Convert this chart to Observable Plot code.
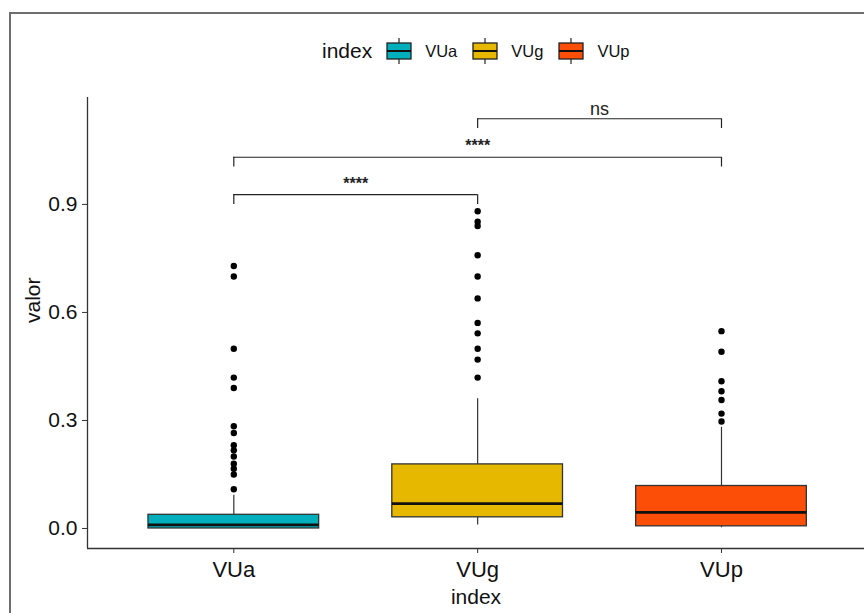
<!DOCTYPE html>
<html>
<head>
<meta charset="utf-8">
<script src="https://cdn.jsdelivr.net/npm/d3@7"></script>
<script src="https://cdn.jsdelivr.net/npm/@observablehq/plot@0.6"></script>
<style>
  html, body { margin: 0; padding: 0; background: #fff; overflow: hidden; }
  #wrap { position: relative; width: 864px; height: 613px; font-family: "Liberation Sans", Arial, sans-serif; color: #111; }
  #legend { position: relative; height: 80px; }
  #legendRow { position: absolute; left: 322px; top: 38px; display: flex; align-items: center; height: 26px; }
  #legendRow .title { font-size: 21px; margin-right: 14px; }
  #legendRow .lab { font-size: 16.5px; margin-left: 13px; margin-right: 15px; }
  #frameBorder { position: absolute; left: 9px; top: 12px; width: 1000px; height: 1000px; border-left: 2px solid #6e6e6e; border-top: 2px solid #6e6e6e; pointer-events: none; }
  svg { display: block; }
</style>
</head>
<body>
<div id="wrap">
  <div id="legend"><div id="legendRow"></div></div>
  <div id="chart"></div>
  <div id="frameBorder"></div>
</div>
<script>
// ---------- data ----------
const categories = ["VUa", "VUg", "VUp"];
const colors = ["#00AFBB", "#E7B800", "#FC4E07"];
const q1 = [0.000, 0.031, 0.006];
const median = [0.010, 0.069, 0.045];
const q3 = [0.038, 0.178, 0.118];
const whiskerLow = [0.000, 0.010, 0.002];
const whiskerHigh = [0.092, 0.360, 0.281];
const outliersVUa = [0.729, 0.700, 0.499, 0.419, 0.390, 0.284, 0.265, 0.231, 0.217, 0.200, 0.180, 0.166, 0.150, 0.109];
const outliersVUg = [0.881, 0.852, 0.840, 0.759, 0.700, 0.639, 0.571, 0.542, 0.499, 0.469, 0.419];
const outliersVUp = [0.548, 0.491, 0.409, 0.381, 0.357, 0.319, 0.297];
const yTicks = [0.0, 0.3, 0.6, 0.9];
const compGroup1 = ["VUa", "VUa", "VUg"];
const compGroup2 = ["VUg", "VUp", "VUp"];
const compY = [0.927, 1.031, 1.138];
const compLabels = ["****", "****", "ns"];
const tipDrop = 0.027;
const xTitle = "index";
const yTitle = "valor";
const legendTitle = "index";

// ---------- tables ----------
const pos = c => categories.indexOf(c) + 1;
const boxes = categories.map((c, i) => ({
  cat: c, x: i + 1, color: colors[i],
  q1: q1[i], med: median[i], q3: q3[i], lo: whiskerLow[i], hi: whiskerHigh[i]
}));
const outlierLists = [outliersVUa, outliersVUg, outliersVUp];
const outliers = outlierLists.flatMap((arr, i) => arr.map(v => ({x: i + 1, v})));
const comps = compLabels.map((l, i) => ({
  x1: pos(compGroup1[i]), x2: pos(compGroup2[i]), y: compY[i], label: l
}));
const tips = comps.flatMap(c => [{x: c.x1, y: c.y}, {x: c.x2, y: c.y}]);
const half = 0.35;
const yMin = -0.0556, yMax = 1.197;

// ---------- legend ----------
const row = d3.select("#legendRow");
row.append("span").attr("class", "title").text(legendTitle);
categories.forEach((c, i) => {
  const s = row.append("svg").attr("width", 26).attr("height", 26);
  s.append("line").attr("x1", 13).attr("x2", 13).attr("y1", 0).attr("y2", 26).attr("stroke", "#222").attr("stroke-width", 1.2);
  s.append("rect").attr("x", 1).attr("y", 5).attr("width", 24).attr("height", 16).attr("fill", colors[i]).attr("stroke", "#222").attr("stroke-width", 1.3);
  s.append("line").attr("x1", 1).attr("x2", 25).attr("y1", 13).attr("y2", 13).attr("stroke", "#111").attr("stroke-width", 2);
  row.append("span").attr("class", "lab").text(c);
});

// ---------- chart ----------
const chart = Plot.plot({
  width: 864,
  height: 533,
  marginLeft: 87,
  marginRight: 0,
  marginTop: 17,
  marginBottom: 65,
  style: {fontFamily: "Liberation Sans, Arial, sans-serif", color: "#111", background: "white"},
  x: {domain: [0.4, 3.6], range: [87, 867.3]},
  y: {domain: [yMin, yMax], range: [468, 17]},
  marks: [
    // axis lines
    Plot.ruleX([0.4], {y1: yMin, y2: yMax, stroke: "#333", strokeWidth: 1.3}),
    Plot.ruleY([yMin], {x1: 0.4, x2: 3.6, stroke: "#333", strokeWidth: 1.3}),
    Plot.axisY({ticks: yTicks, tickFormat: d3.format(".1f"), tickSize: 5, tickPadding: 5, fontSize: 21, label: null, stroke: "#333"}),
    Plot.axisX({ticks: [1, 2, 3], tickFormat: d => categories[d - 1], tickSize: 5, tickPadding: 8, fontSize: 22, label: null, stroke: "#333"}),
    // whiskers
    Plot.ruleX(boxes, {x: "x", y1: "q3", y2: "hi", stroke: "#333", strokeWidth: 1.2}),
    Plot.ruleX(boxes, {x: "x", y1: "lo", y2: "q1", stroke: "#333", strokeWidth: 1.2}),
    // boxes
    Plot.rect(boxes, {x1: d => d.x - half, x2: d => d.x + half, y1: "q1", y2: "q3", fill: "color", stroke: "#333", strokeWidth: 1.3}),
    Plot.ruleY(boxes, {y: "med", x1: d => d.x - half, x2: d => d.x + half, stroke: "#111", strokeWidth: 2.8}),
    // outliers
    Plot.dot(outliers, {x: "x", y: "v", r: 3.2, fill: "#000", stroke: null}),
    // significance brackets
    Plot.ruleY(comps, {y: "y", x1: "x1", x2: "x2", stroke: "#222", strokeWidth: 1.2}),
    Plot.ruleX(tips, {x: "x", y1: d => d.y - tipDrop, y2: "y", stroke: "#222", strokeWidth: 1.2}),
    Plot.text(comps.filter(d => d.label !== "ns"), {x: d => (d.x1 + d.x2) / 2, y: "y", text: "label", fontSize: 16, dy: -11, fill: "#222", fontWeight: "bold"}),
    Plot.text(comps.filter(d => d.label === "ns"), {x: d => (d.x1 + d.x2) / 2, y: "y", text: "label", fontSize: 18, dy: -10, fill: "#222"}),
    // axis titles
    Plot.text([xTitle], {text: d => d, frameAnchor: "bottom", dy: 55, fontSize: 21, fill: "#111"}),
    Plot.text([yTitle], {text: d => d, frameAnchor: "left", dx: -54, rotate: -90, fontSize: 21, fill: "#111"})
  ]
});
document.getElementById("chart").appendChild(chart);
</script>
</body>
</html>
